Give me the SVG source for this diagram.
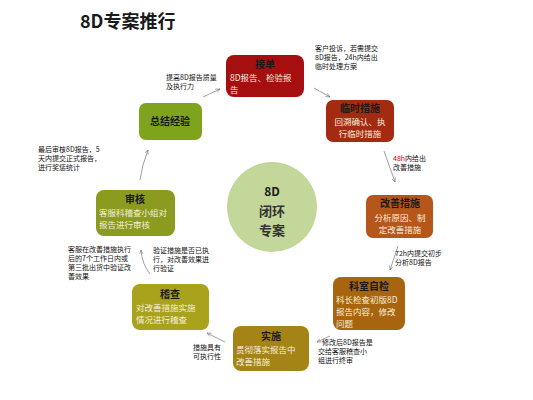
<svg xmlns="http://www.w3.org/2000/svg" width="533" height="400" viewBox="0 0 533 400">
<defs>
<marker id="ah" viewBox="0 0 10 10" refX="9" refY="5" markerWidth="6" markerHeight="6" orient="auto-start-reverse">
<path d="M0,1 L9,5 L0,9" fill="none" stroke="#777" stroke-width="1.2"/>
</marker>
<style>
.t{font-family:"Noto Sans CJK SC","Liberation Sans",sans-serif;fill:#1a1a1a}
.h{font-size:10px;font-weight:bold;text-anchor:middle}
.b{font-size:8.5px;fill:#f6eedc}
.n{font-size:7px;fill:#111}
.c{stroke:#888;stroke-width:0.8;fill:none;marker-end:url(#ah)}
</style>
</defs>
<rect width="533" height="400" fill="#fff"/>
<text x="80" y="28" class="t" style="font-size:18px;font-weight:bold">8D专案推行</text>

<g id="center">
<circle cx="272" cy="207" r="45" fill="#c4d79b"/>
<text x="272" y="196" class="t" style="font-size:12px;font-weight:bold;text-anchor:middle">8D</text>
<text x="272" y="216" class="t" style="font-size:13px;font-weight:bold;text-anchor:middle;fill:#333">闭环</text>
<text x="272" y="235" class="t" style="font-size:13px;font-weight:bold;text-anchor:middle;fill:#333">专案</text>
</g>

<g id="n1">
<rect x="226" y="55" width="78" height="42" rx="8" fill="#a50f10"/>
<text x="265" y="68" class="t h">接单</text>
<text x="230" y="81" class="t b">8D报告、检验报</text>
<text x="230" y="93" class="t b">告</text>
</g>
<g id="n2">
<rect x="326" y="100" width="68" height="42" rx="7" fill="#a52a12"/>
<text x="360" y="112" class="t h">临时措施</text>
<text x="360" y="125" class="t b" text-anchor="middle">回溯确认、执</text>
<text x="360" y="137" class="t b" text-anchor="middle">行临时措施</text>
</g>
<g id="n3">
<rect x="366" y="195" width="67" height="43" rx="7" fill="#b5561a"/>
<text x="400" y="207" class="t h">改善措施</text>
<text x="400" y="221" class="t b" text-anchor="middle">分析原因、制</text>
<text x="400" y="233" class="t b" text-anchor="middle">定改善措施</text>
</g>
<g id="n4">
<rect x="333" y="277" width="72" height="53" rx="8" fill="#a8650f"/>
<text x="369" y="290" class="t h">科室自检</text>
<text x="336" y="303" class="t b">科长检查初版8D</text>
<text x="336" y="315" class="t b">报告内容，修改</text>
<text x="336" y="327" class="t b">问题</text>
</g>
<g id="n5">
<rect x="233" y="326" width="76" height="45" rx="8" fill="#a58417"/>
<text x="271" y="340" class="t h">实施</text>
<text x="236" y="353" class="t b">贯彻落实报告中</text>
<text x="236" y="365" class="t b">改善措施</text>
</g>
<g id="n6">
<rect x="132" y="284" width="77" height="46" rx="8" fill="#a8a21c"/>
<text x="170" y="298" class="t h">稽查</text>
<text x="136" y="311" class="t b">对改善措施实施</text>
<text x="136" y="323" class="t b">情况进行稽查</text>
</g>
<g id="n7">
<rect x="96" y="190" width="79" height="46" rx="8" fill="#8a9b1f"/>
<text x="135" y="203" class="t h">审核</text>
<text x="99" y="216" class="t b">客服科稽查小组对</text>
<text x="99" y="228" class="t b">报告进行审核</text>
</g>
<g id="n8">
<rect x="139" y="103" width="63" height="37" rx="7" fill="#7ea31c"/>
<text x="170" y="125" class="t h">总结经验</text>
</g>

<g id="connectors">
<path class="c" d="M203,97 L220,89"/>
<path class="c" d="M314,88 L330,97"/>
<path class="c" d="M384,151 L395,182"/>
<path class="c" d="M398,246 L390,270"/>
<path class="c" d="M330,336 L317,342"/>
<path class="c" d="M225,342 L207,333"/>
<path class="c" d="M150,274 Q142,264 141,250"/>
<path class="c" d="M140,180 Q142,165 148,150"/>
</g>

<g id="notes">
<text x="166" y="80" class="t n">提高8D报告质量</text>
<text x="166" y="89" class="t n">及执行力</text>
<text x="315" y="51" class="t n">客户投诉，若需提交</text>
<text x="315" y="60" class="t n">8D报告，24h内给出</text>
<text x="315" y="69" class="t n">临时处理方案</text>
<text x="393" y="161" class="t n"><tspan fill="#c00">48h</tspan>内给出</text>
<text x="393" y="170" class="t n">改善措施</text>
<text x="395" y="256" class="t n">72h内提交初步</text>
<text x="395" y="265" class="t n">分析8D报告</text>
<text x="322" y="345" class="t n">修改后8D报告是</text>
<text x="318" y="354" class="t n">交给客服稽查小</text>
<text x="318" y="363" class="t n">组进行终审</text>
<text x="193" y="350" class="t n">措施具有</text>
<text x="193" y="359" class="t n">可执行性</text>
<text x="153" y="253" class="t n">验证措施是否已执</text>
<text x="153" y="262" class="t n">行，对改善效果进</text>
<text x="153" y="271" class="t n">行验证</text>
<text x="68" y="252" class="t n">客服在改善措施执行</text>
<text x="68" y="261" class="t n">后的7个工作日内或</text>
<text x="68" y="270" class="t n">第三批出货中验证改</text>
<text x="68" y="279" class="t n">善效果</text>
<text x="38" y="152" class="t n">最后审核8D报告，5</text>
<text x="38" y="161" class="t n">天内提交正式报告，</text>
<text x="38" y="170" class="t n">进行奖惩统计</text>
</g>
</svg>
